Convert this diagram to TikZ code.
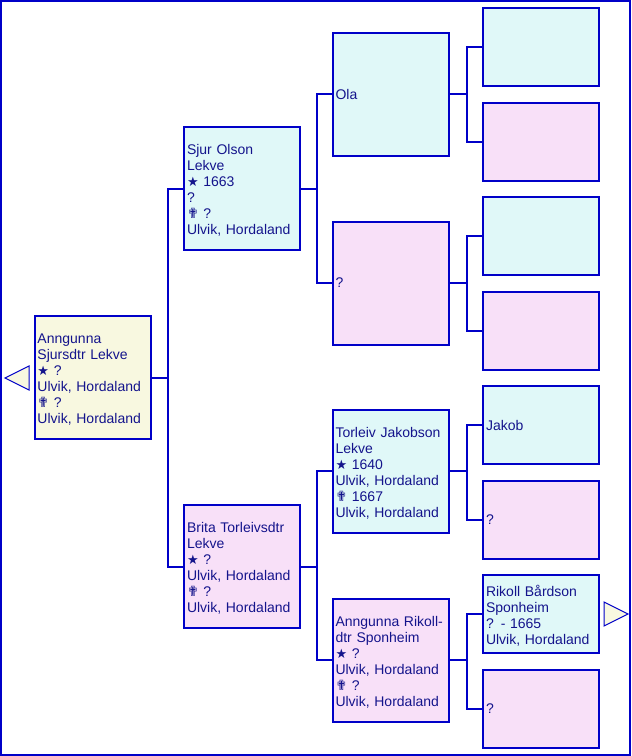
\documentclass[tikz,border=0pt]{standalone}
\usepackage{fontspec}
\setmainfont{Liberation Sans}
\newfontfamily\symfont{DejaVu Sans}
\definecolor{lineblue}{RGB}{0,0,200}
\definecolor{txtblue}{RGB}{20,20,140}
\definecolor{yfill}{RGB}{248,248,224}
\definecolor{cfill}{RGB}{224,248,248}
\definecolor{pfill}{RGB}{248,224,248}
\newcommand{\bstar}{{\symfont\fontsize{13}{16}\selectfont ★}}
\newcommand{\dcross}{{\symfont\fontsize{14}{16}\selectfont ✟}}
\tikzset{
  person/.style={draw=lineblue, line width=2pt, rectangle, inner xsep=3pt, inner ysep=0pt,
    text width=110pt, align=left, font=\fontsize{14}{16}\selectfont, text=txtblue,
    minimum width=116pt},
  multi/.style={execute at begin node={\rule{0pt}{14pt}}},
  big/.style={person, minimum height=123pt},
  small/.style={person, minimum height=78pt},
  male/.style={fill=cfill},
  female/.style={fill=pfill},
  root/.style={fill=yfill},
  link/.style={draw=lineblue, line width=2pt},
  navtri/.style={draw=lineblue, line width=1pt, fill=yfill, line join=miter},
  frame/.style={draw=lineblue, line width=2pt}
}
\begin{document}
\begin{tikzpicture}[x=1pt,y=-1pt]
\useasboundingbox (0,0) rectangle (632,756);
\draw[frame] (1,1) rectangle (630,754.5);

% generation 1
\node[big,root,multi] (p1) at (92.5,377.5) {Anngunna\\Sjursdtr Lekve\\\bstar{} ?\\Ulvik, Hordaland\\\dcross{} ?\\Ulvik, Hordaland};

% generation 2
\node[big,male,multi] (p2) at (242,188.5) {Sjur Olson\\Lekve\\\bstar{} 1663\\?\\\dcross{} ?\\Ulvik, Hordaland};
\node[big,female,multi] (p3) at (242,566.5) {Brita Torleivsdtr\\Lekve\\\bstar{} ?\\Ulvik, Hordaland\\\dcross{} ?\\Ulvik, Hordaland};

% generation 3
\node[big,male] (p4) at (390.5,94) {Ola};
\node[big,female] (p5) at (390.5,283) {?};
\node[big,male,multi] (p6) at (390.5,471) {Torleiv Jakobson\\Lekve\\\bstar{} 1640\\Ulvik, Hordaland\\\dcross{} 1667\\Ulvik, Hordaland};
\node[big,female,multi] (p7) at (390.5,660) {Anngunna Rikoll-\\dtr Sponheim\\\bstar{} ?\\Ulvik, Hordaland\\\dcross{} ?\\Ulvik, Hordaland};

% generation 4
\node[small,male] (p8) at (541,47) {};
\node[small,female] (p9) at (541,142) {};
\node[small,male] (p10) at (541,236) {};
\node[small,female] (p11) at (541,331) {};
\node[small,male] (p12) at (541,425) {Jakob};
\node[small,female] (p13) at (541,520) {?};
\node[small,male,multi] (p14) at (541,614) {Rikoll Bårdson\\Sponheim\\{?} - 1665\\Ulvik, Hordaland};
\node[small,female] (p15) at (541,709) {?};

% connectors
\draw[link] (p1.east) -- ++(16,0) coordinate (j1);
\draw[link] (j1) |- (p2.west);
\draw[link] (j1) |- (p3.west);

\draw[link] (p2.east) -- ++(16,0) coordinate (j2);
\draw[link] (j2) |- (p4.west);
\draw[link] (j2) |- (p5.west);
\draw[link] (p3.east) -- ++(16,0) coordinate (j3);
\draw[link] (j3) |- (p6.west);
\draw[link] (j3) |- (p7.west);

\draw[link] (p4.east) -- ++(17,0) coordinate (j4);
\draw[link] (j4) |- (p8.west);
\draw[link] (j4) |- (p9.west);
\draw[link] (p5.east) -- ++(17,0) coordinate (j5);
\draw[link] (j5) |- (p10.west);
\draw[link] (j5) |- (p11.west);
\draw[link] (p6.east) -- ++(17,0) coordinate (j6);
\draw[link] (j6) |- (p12.west);
\draw[link] (j6) |- (p13.west);
\draw[link] (p7.east) -- ++(17,0) coordinate (j7);
\draw[link] (j7) |- (p14.west);
\draw[link] (j7) |- (p15.west);

% navigation triangles
\draw[navtri] (5,378) -- (29,366) -- (29,390) -- cycle;
\draw[navtri] (628,614) -- (604,602) -- (604,626) -- cycle;
\end{tikzpicture}
\end{document}
